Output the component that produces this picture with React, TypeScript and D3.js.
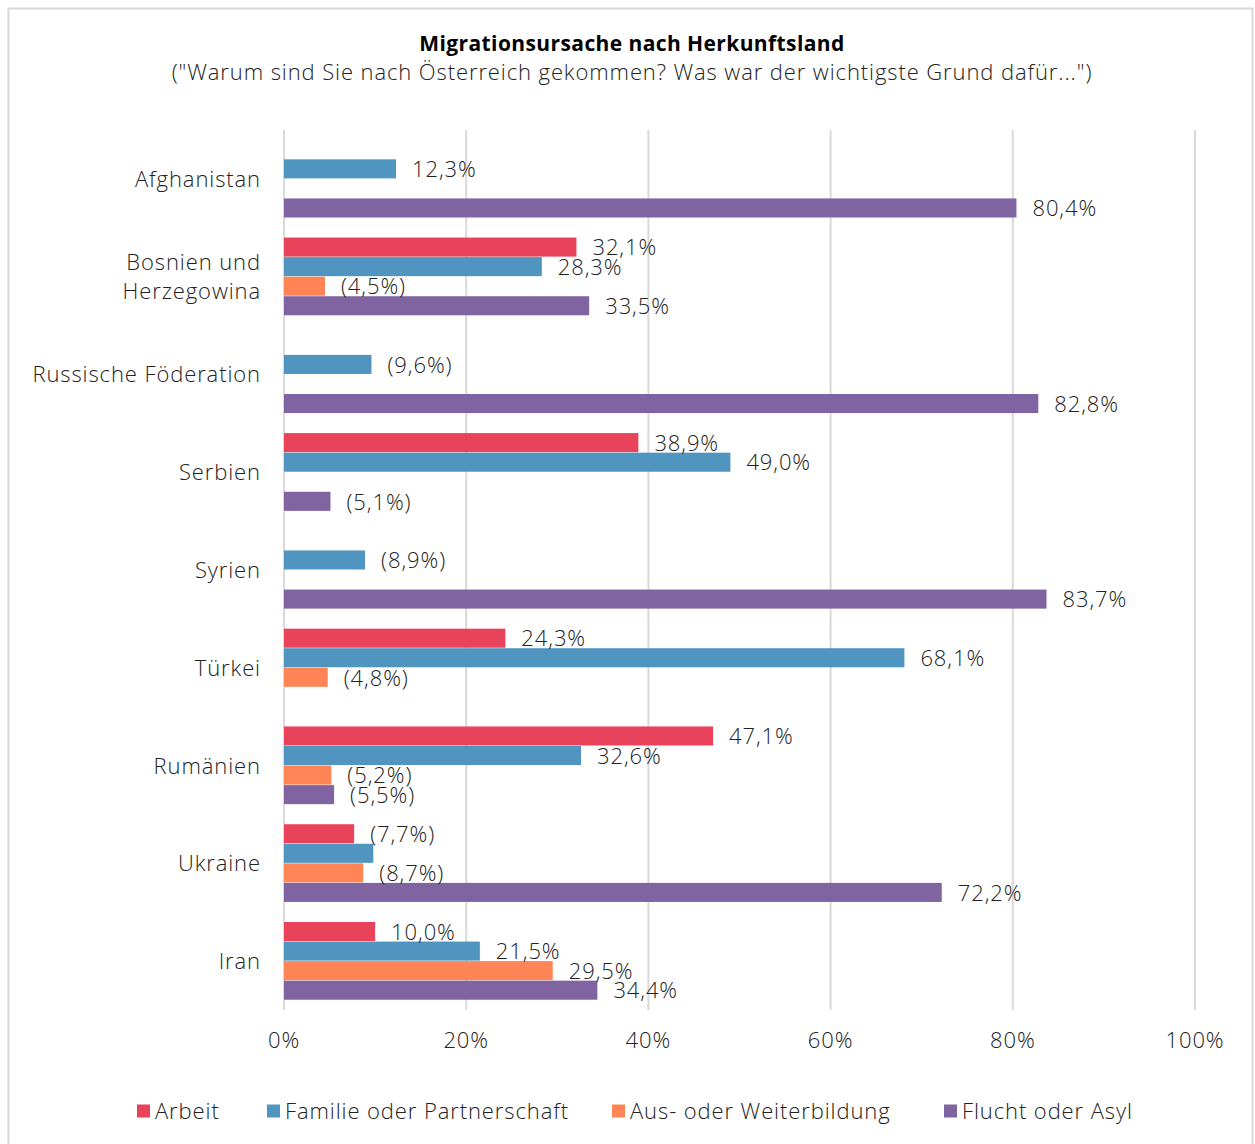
import React, { useRef, useEffect } from 'react'
import * as d3 from 'd3'

const countries = [
  'Afghanistan',
  'Bosnien und Herzegowina',
  'Russische Föderation',
  'Serbien',
  'Syrien',
  'Türkei',
  'Rumänien',
  'Ukraine',
  'Iran',
]

const seriesNames = ['Arbeit', 'Familie oder Partnerschaft', 'Aus- oder Weiterbildung', 'Flucht oder Asyl']
const seriesColors = ['#E8435A', '#4F95BF', '#FF8557', '#8064A2']

// null = no bar
const arbeit = [null, 32.1, null, 38.9, null, 24.3, 47.1, 7.7, 10.0]
const familie = [12.3, 28.3, 9.6, 49.0, 8.9, 68.1, 32.6, 9.8, 21.5]
const ausbildung = [null, 4.5, null, null, null, 4.8, 5.2, 8.7, 29.5]
const flucht = [80.4, 33.5, 82.8, 5.1, 83.7, null, 5.5, 72.2, 34.4]

// labels hidden in the original (country|series)
const hiddenLabels = ['Ukraine|Familie oder Partnerschaft']

const xTicks = [0, 20, 40, 60, 80, 100]

const W = 1255
const H = 1144
const FONT = '"Open Sans", Lato, sans-serif'
const LS = '0.9px'

export default function App() {
  const ref = useRef<SVGSVGElement>(null)

  useEffect(() => {
    const svg = d3.select(ref.current)
    svg.selectAll('*').remove()

    const margin = { top: 130, left: 284 }
    const x = d3.scaleLinear().domain([0, 100]).range([margin.left, 1195])
    const y0 = d3.scaleBand().domain(countries).range([margin.top, 1010]).paddingInner(0.2).paddingOuter(0.1)
    const y1 = d3.scaleBand().domain(seriesNames).range([0, y0.bandwidth()])

    // frame
    svg.append('rect')
      .attr('x', 8.5).attr('y', 8.5)
      .attr('width', 1244).attr('height', 1200)
      .attr('fill', '#fff').attr('stroke', '#D9D9D9').attr('stroke-width', 2)

    // title
    svg.append('text')
      .attr('x', 632).attr('y', 51)
      .attr('text-anchor', 'middle')
      .style('font-family', FONT).style('font-size', '21px').style('font-weight', 700)
      .style('letter-spacing', '0.4px')
      .attr('fill', '#000')
      .text('Migrationsursache nach Herkunftsland')
    svg.append('text')
      .attr('x', 632).attr('y', 80)
      .attr('text-anchor', 'middle')
      .style('font-family', FONT).style('font-size', '22px').style('font-weight', 300)
      .style('letter-spacing', LS)
      .attr('fill', '#222')
      .text('("Warum sind Sie nach Österreich gekommen? Was war der wichtigste Grund dafür...")')

    // gridlines
    svg.append('g').selectAll('line')
      .data(xTicks)
      .enter().append('line')
      .attr('x1', d => x(d)).attr('x2', d => x(d))
      .attr('y1', 130).attr('y2', 1010)
      .attr('stroke', '#D9D9D9').attr('stroke-width', 2)

    // tick labels
    svg.append('g').selectAll('text')
      .data(xTicks)
      .enter().append('text')
      .attr('x', d => x(d)).attr('y', 1048)
      .attr('text-anchor', 'middle')
      .style('font-family', FONT).style('font-size', '22px').style('font-weight', 300)
      .style('letter-spacing', LS)
      .attr('fill', '#222')
      .text(d => d + '%')

    // category labels
    countries.forEach(c => {
      const cy = y0(c)! + y0.bandwidth() / 2
      const lines = c === 'Bosnien und Herzegowina' ? ['Bosnien und', 'Herzegowina'] : [c]
      const t = svg.append('text')
        .attr('x', 261).attr('text-anchor', 'end')
        .style('font-family', FONT).style('font-size', '22px').style('font-weight', 300)
        .style('letter-spacing', LS)
        .attr('fill', '#222')
      lines.forEach((l, i) => {
        t.append('tspan')
          .attr('x', 261)
          .attr('y', cy + 8 + (i - (lines.length - 1) / 2) * 29)
          .text(l)
      })
    })

    const all = [arbeit, familie, ausbildung, flucht]
    const rows: { c: string; s: string; v: number; color: string }[] = []
    countries.forEach((c, i) => {
      seriesNames.forEach((s, j) => {
        const v = all[j][i]
        if (v != null) rows.push({ c, s, v, color: seriesColors[j] })
      })
    })

    const fmt = (v: number) => {
      const str = v.toFixed(1).replace('.', ',') + '%'
      return v < 10 ? '(' + str + ')' : str
    }

    // bars
    svg.append('g').selectAll('rect')
      .data(rows)
      .enter().append('rect')
      .attr('x', x(0))
      .attr('y', d => y0(d.c)! + y1(d.s)!)
      .attr('width', d => x(d.v) - x(0))
      .attr('height', y1.bandwidth() - 0.5)
      .attr('fill', d => d.color)

    // value labels
    svg.append('g').selectAll('text')
      .data(rows.filter(d => !hiddenLabels.includes(d.c + '|' + d.s)))
      .enter().append('text')
      .attr('x', d => x(d.v) + 16)
      .attr('y', d => y0(d.c)! + y1(d.s)! + y1.bandwidth() / 2 + 8)
      .style('font-family', FONT).style('font-size', '22px').style('font-weight', 300)
      .style('letter-spacing', LS)
      .attr('fill', '#222')
      .text(d => fmt(d.v))

    // legend
    const legendX = [137, 267, 612, 944]
    const lg = svg.append('g').selectAll('g')
      .data(seriesNames)
      .enter().append('g')
      .attr('transform', (d, i) => `translate(${legendX[i]},1111)`)
    lg.append('rect')
      .attr('x', 0).attr('y', -6.5)
      .attr('width', 13).attr('height', 13)
      .attr('fill', (d, i) => seriesColors[i])
    lg.append('text')
      .attr('x', 18).attr('y', 8)
      .style('font-family', FONT).style('font-size', '22px').style('font-weight', 300)
      .style('letter-spacing', LS)
      .attr('fill', '#222')
      .text(d => d)
  }, [])

  return (
    <svg
      ref={ref}
      width={W}
      height={H}
      style={{ position: 'absolute', left: 0, top: 0, display: 'block' }}
    />
  )
}
